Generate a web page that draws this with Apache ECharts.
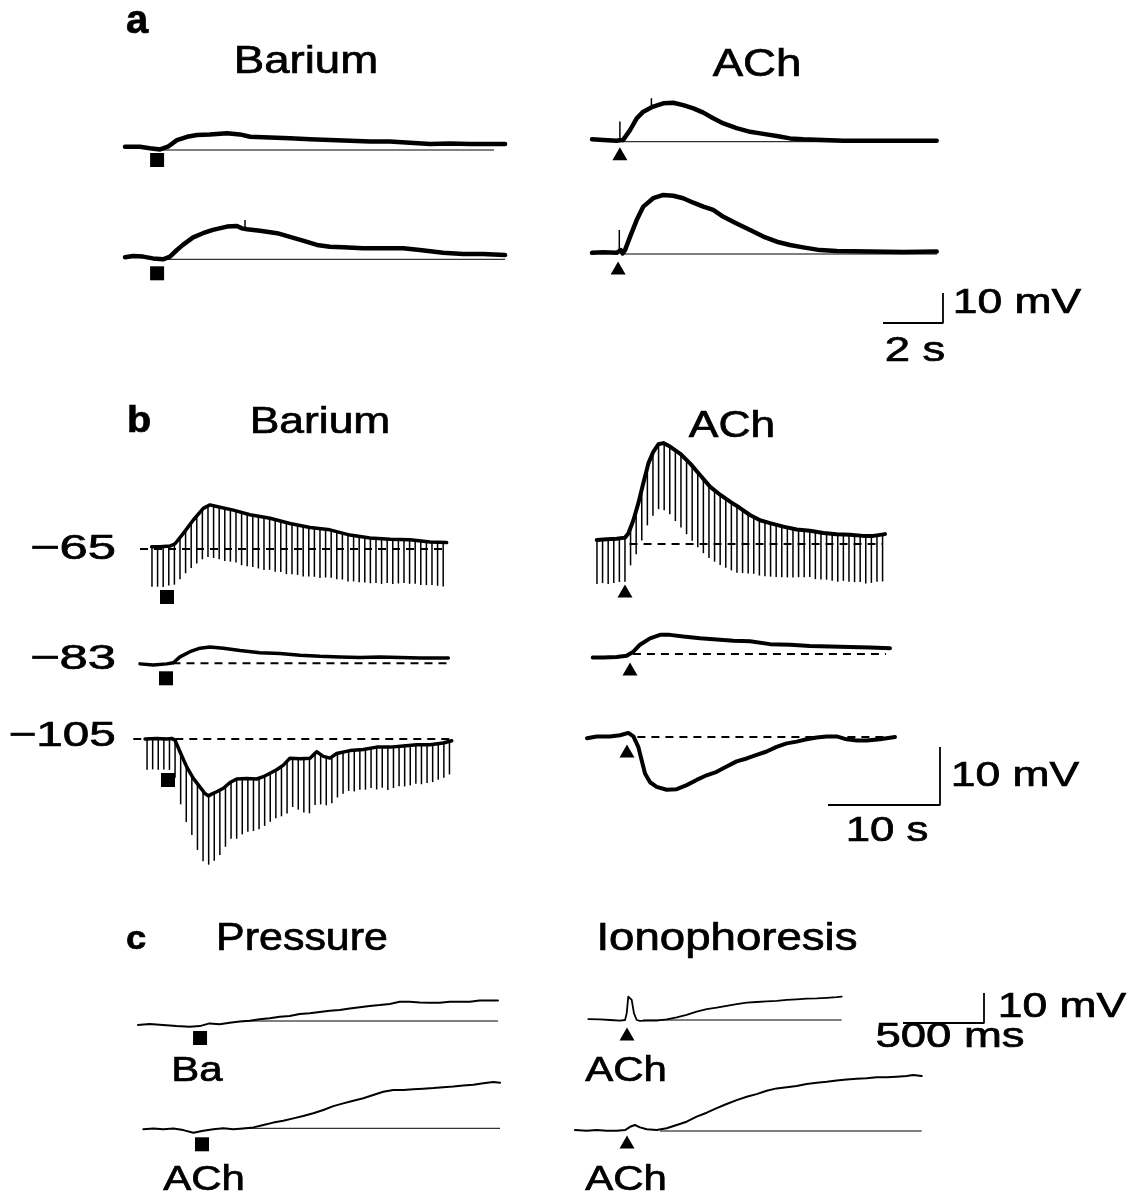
<!DOCTYPE html>
<html>
<head>
<meta charset="utf-8">
<script src="https://cdn.jsdelivr.net/npm/echarts@6/dist/echarts.min.js"></script>
<style>
  html, body { margin: 0; padding: 0; background: #fff; }
  #chart { width: 1139px; height: 1201px; }
</style>
</head>
<body>
<div id="chart"></div>
<script>
// ---- recordings: time (s, panel c in ms) and potential (mV relative to the trace's baseline)
// panel a
var aBaTopT = [0, 0.5, 0.83, 1.17, 1.43, 1.73, 2.07, 2.4, 2.83, 3.4, 3.83, 4.17, 4.83, 5.5, 6.17, 6.83, 7.5, 8.17, 8.83, 9.5, 10.17, 10.83, 11.5, 12.67];
var aBaTopV = [1.1, 1.1, 0.6, 0.2, 1.1, 3.3, 4.4, 5.0, 5.2, 5.6, 5.2, 4.4, 4.2, 3.9, 3.6, 3.3, 3.1, 2.8, 2.8, 2.4, 2.0, 2.2, 2.0, 2.0];
var aBaBotT = [0, 0.27, 0.6, 0.93, 1.27, 1.5, 1.73, 1.93, 2.27, 2.6, 2.93, 3.4, 3.73, 3.9, 4.07, 4.5, 5.07, 5.5, 5.93, 6.4, 6.83, 7.27, 7.93, 8.6, 9.27, 9.83, 10.6, 11.27, 11.93, 12.67];
var aBaBotV = [0.7, 1.1, 0.9, 0.3, 0.0, 0.9, 3.1, 4.8, 7.3, 8.7, 9.8, 10.9, 11.1, 10.3, 10.0, 9.5, 8.7, 7.5, 6.2, 4.8, 4.2, 4.0, 3.7, 3.7, 3.7, 3.1, 2.2, 1.8, 1.8, 1.4];
var aAChTopT = [0, 0.38, 0.82, 0.93, 1.04, 1.27, 1.49, 1.71, 2.04, 2.38, 2.71, 3.04, 3.38, 3.71, 4.04, 4.38, 4.82, 5.27, 5.71, 6.16, 6.6, 7.04, 7.71, 8.38, 9.27, 10.38, 11.49];
var aAChTopV = [0.8, 0.6, 0.3, 0.5, 0.6, 3.9, 7.8, 10.0, 11.7, 12.8, 13.0, 12.2, 11.1, 9.7, 7.8, 6.1, 4.5, 3.3, 2.6, 1.9, 1.1, 0.8, 0.6, 0.3, 0.3, 0.3, 0.3];
var aAChBotT = [0, 0.38, 0.82, 0.96, 1.02, 1.1, 1.27, 1.49, 1.71, 2.04, 2.38, 2.71, 3.04, 3.38, 3.71, 4.04, 4.38, 4.82, 5.27, 5.71, 6.16, 6.6, 7.04, 7.6, 8.16, 9.27, 10.38, 11.49];
var aAChBotV = [0.4, 0.6, 0.4, 1.3, 0.2, 1.3, 5.8, 11.3, 15.8, 18.6, 19.7, 19.4, 18.6, 17.1, 15.8, 14.7, 12.4, 10.2, 8.0, 5.8, 4.1, 3.0, 2.2, 1.3, 1.0, 0.8, 0.7, 0.8];
// fast artefacts (time, peak mV)
var aBaBotSpikeT = [4.0], aBaBotSpikeV = [13.1];
var aAChTopSpikeT = [0.93, 1.98], aAChTopSpikeV = [6.7, 14.5];
var aAChBotSpikeT = [0.91], aAChBotSpikeV = [8.0];

// panel b, holding potentials -65 / -83 / -105 mV
var bBa65T = [1.04, 1.79, 2.68, 3.13, 3.87, 4.76, 5.65, 6.25, 7.14, 8.33, 9.82, 11.61, 13.39, 15.18, 16.96, 18.75, 20.54, 22.32, 24.11, 25.89, 27.38];
var bBa65V = [0.4, 0.4, 0.5, 0.9, 2.7, 5.0, 7.0, 7.6, 7.2, 6.7, 5.9, 5.3, 4.4, 3.7, 3.3, 2.4, 1.9, 1.7, 1.6, 1.2, 1.1];
var bBa83T = [0, 1.19, 2.38, 2.98, 3.57, 4.46, 5.36, 6.25, 7.44, 8.93, 10.71, 12.5, 14.29, 16.07, 17.86, 19.64, 21.43, 23.21, 25.0, 26.19, 27.53];
var bBa83V = [-0.1, -0.3, -0.1, 0.1, 1.1, 2.0, 2.6, 2.8, 2.6, 2.2, 1.8, 1.7, 1.4, 1.2, 1.1, 1.0, 1.1, 1.0, 0.9, 0.9, 0.9];
var bBa105T = [0.45, 1.49, 2.38, 2.83, 3.13, 3.57, 4.17, 4.76, 5.36, 5.8, 6.1, 6.4, 6.85, 7.44, 8.04, 8.63, 9.52, 10.42, 11.01, 11.61, 12.2, 12.8, 13.39, 14.29, 15.18, 15.77, 16.37, 16.96, 17.56, 18.75, 19.94, 21.13, 22.32, 23.51, 24.7, 25.89, 27.08, 27.83];
var bBa105V = [0, 0.1, 0, 0.1, -0.2, -2.2, -4.8, -6.8, -8.3, -9.4, -9.8, -9.5, -9.1, -8.5, -7.5, -6.9, -6.8, -6.9, -6.5, -5.9, -5.3, -4.5, -3.3, -3.4, -3.3, -2.2, -3.0, -3.3, -2.5, -2.0, -1.8, -1.4, -1.4, -1.2, -1.0, -1.0, -0.7, -0.3];
var bACh65T = [0.87, 1.76, 2.65, 3.39, 3.69, 4.14, 4.58, 5.03, 5.48, 5.92, 6.37, 6.82, 7.41, 8.3, 9.2, 10.09, 10.98, 11.88, 12.77, 13.66, 14.55, 15.45, 16.34, 17.53, 18.72, 19.91, 21.1, 22.29, 23.48, 24.67, 25.57, 26.61];
var bACh65V = [0.7, 0.8, 0.9, 1.1, 1.8, 4.1, 7.0, 10.5, 13.9, 15.9, 17.2, 17.4, 16.8, 15.6, 13.9, 11.9, 9.9, 8.5, 7.3, 6.2, 5.0, 4.1, 3.6, 3.0, 2.5, 2.3, 1.9, 1.7, 1.6, 1.4, 1.4, 1.7];
var bACh83T = [0.51, 1.46, 2.65, 3.54, 4.14, 4.73, 5.63, 6.52, 7.41, 8.6, 10.09, 11.58, 13.07, 14.55, 16.34, 18.13, 19.91, 21.7, 23.48, 25.27, 27.05];
var bACh83V = [-0.6, -0.6, -0.5, -0.3, 0.4, 1.6, 2.7, 3.3, 3.3, 3.0, 2.7, 2.5, 2.3, 2.2, 1.7, 1.6, 1.4, 1.3, 1.2, 1.1, 1.0];
var bACh105T = [0, 0.87, 2.05, 2.95, 3.69, 4.14, 4.58, 4.88, 5.18, 5.63, 6.22, 7.11, 8.01, 8.9, 9.79, 10.68, 11.58, 12.47, 13.36, 14.26, 15.15, 16.04, 16.93, 17.83, 18.72, 19.61, 20.51, 21.4, 22.29, 23.18, 24.08, 24.97, 26.16, 27.5];
var bACh105V = [-0.2, 0.1, 0.1, 0.3, 0.7, 0.1, -1.7, -4.0, -6.3, -7.8, -8.6, -9.1, -9.0, -8.3, -7.4, -6.6, -6.0, -5.1, -4.2, -3.7, -3.1, -2.5, -1.7, -1.1, -0.8, -0.4, -0.1, 0.1, 0.1, -0.4, -0.6, -0.6, -0.4, 0];
// hyperpolarising current pulses, one every 0.5 s: first pulse time and each pulse's amplitude (mV)
var PULSE_PERIOD = 0.5;
var bBa65PulseT0 = 1.07;
var bBa65Pulse = [6.9, 6.9, 7.0, 6.8, 7.0, 7.2, 7.4, 7.8, 8.2, 8.6, 8.8, 9.0,
  9.0, 9.1, 9.0, 8.9, 9.1, 9.0, 8.9, 9.0, 9.1, 8.9, 9.0,
  8.8, 8.9, 8.7, 8.6, 8.7, 8.5, 8.4, 8.5, 8.3, 8.2,
  8.2, 8.0, 8.1, 7.9, 7.9, 7.8, 7.8,
  7.7, 7.8, 7.6, 7.7, 7.6, 7.5, 7.6, 7.5, 7.6, 7.5, 7.4, 7.5, 7.6];
var bBa105PulseT0 = 0.63;
var bBa105Pulse = [5.3, 5.3, 5.4, 5.3, 5.4, 6.5, 8.8, 9.7, 10.2, 11.4, 12.1, 11.9, 11.7, 11.2, 10.4,
  9.8, 10.3, 9.6, 9.2, 9.0, 8.8, 8.6, 8.4, 8.3, 8.6, 9.0, 8.4, 8.8, 9.3, 9.5,
  8.9, 8.6, 8.3, 8.0, 7.6, 7.2, 6.9, 7.1, 6.9, 7.0, 6.9, 7.3, 7.0, 7.4, 7.1,
  6.9, 7.0, 6.9, 6.7, 6.8, 6.6, 6.5, 6.2, 6.0, 5.7];
var bACh65PulseT0 = 0.89;
var bACh65Pulse = [7.6, 7.5, 7.7, 7.6, 7.5, 7.6, 6.5, 7.5, 8.8, 10.0, 10.9, 11.2, 11.5, 11.7, 12.2,
  12.6, 12.8, 12.9, 12.9, 12.8, 12.5, 12.3, 12.1, 11.9, 11.7, 11.5, 10.9, 10.3, 9.8, 9.6,
  9.4, 9.2, 9.0, 8.8, 8.6, 8.4, 8.2, 8.1, 8.0, 8.2, 8.1, 8.0, 8.1, 8.2, 8.0,
  8.1, 8.1, 8.0, 8.2, 8.1, 8.0, 8.1];

// panel c (ms)
var cBaT = [0, 72, 154, 237, 319, 381, 442, 504, 566, 628, 689, 751, 813, 875, 936, 998, 1060, 1122, 1183, 1245, 1307, 1369, 1430, 1492, 1554, 1615, 1677, 1739, 1801, 1862, 1924, 1986, 2048, 2109, 2171, 2222];
var cBaV = [-1.3, -1.0, -1.3, -1.7, -1.9, -1.7, -0.8, -1.1, -0.6, -0.2, 0.1, 0.6, 0.9, 1.4, 1.7, 2.3, 2.6, 3.0, 3.4, 3.7, 4.2, 4.6, 5.0, 5.3, 5.7, 6.4, 6.4, 6.2, 6.1, 6.1, 6.4, 6.4, 6.4, 6.8, 6.8, 6.8];
var cAChT = [33, 95, 156, 218, 280, 342, 403, 465, 527, 588, 650, 712, 774, 835, 897, 959, 1020, 1082, 1144, 1206, 1267, 1329, 1391, 1452, 1514, 1576, 1638, 1699, 1761, 1823, 1885, 1946, 2008, 2070, 2132, 2193, 2235];
var cAChV = [-0.3, -0.1, -0.3, -0.1, -0.6, -1.5, -0.8, -0.3, 0, -0.3, -0.1, 0.3, 1.1, 1.9, 2.5, 3.3, 4.1, 5.0, 6.1, 7.4, 8.3, 9.2, 10.0, 11.1, 12.2, 12.8, 12.8, 13.0, 13.2, 13.4, 13.7, 13.9, 14.3, 14.5, 15.0, 15.4, 15.2];
var cIonTopT = [82, 154, 216, 278, 309, 319, 329, 340, 350, 364, 381, 401, 443, 504, 566, 628, 689, 751, 813, 875, 936, 998, 1060, 1121, 1183, 1245, 1307, 1368, 1430, 1492, 1554, 1615, 1646];
var cIonTopV = [0.3, 0.2, 0, -0.2, 0, 2.2, 7.8, 8.3, 6.7, 2.2, 0, -0.3, -0.2, -0.2, 0.2, 0.9, 1.7, 2.8, 3.6, 4.1, 4.7, 5.3, 5.8, 6.0, 6.2, 6.4, 6.7, 6.9, 7.1, 7.2, 7.4, 7.6, 7.8];
var cIonBotT = [0, 72, 134, 196, 257, 309, 340, 370, 401, 443, 504, 566, 628, 689, 751, 813, 875, 936, 998, 1060, 1121, 1183, 1245, 1307, 1368, 1430, 1492, 1554, 1615, 1677, 1739, 1800, 1862, 1924, 1986, 2047, 2088, 2140];
var cIonBotV = [0.3, 0.1, 0.3, 0.1, 0.1, 0.3, 1.4, 2.0, 1.2, 0.6, 0.3, 0.9, 2.0, 3.1, 4.8, 6.1, 7.6, 9.0, 10.3, 11.4, 12.3, 13.4, 14.2, 14.6, 15.0, 15.7, 16.1, 16.4, 16.8, 17.2, 17.4, 17.6, 17.9, 17.9, 18.1, 18.3, 18.7, 18.3];

// application times (per trace, in panel order) and extent of each baseline
var aStim = [1.07, 1.07, 0.93, 0.87];
var bStim = [2.41, 2.32, 2.5, 3.39, 3.84, 3.57];
var cStim = [383, 395, 321, 321];
var aBase = [[1.2, 12.3], [1.4, 12.67], [1.0, 11.5], [1.0, 11.5]];
var bBase = [[0, 27.5], [2.9, 27.5], [-0.6, 28.0], [3.8, 26.4], [4.1, 26.7], [4.5, 27.5]];
var cBase = [[650, 2222], [630, 2235], [420, 1646], [525, 2140]];

// calibration bars
var aScaleT = [0, 2, 2], aScaleV = [0, 0, 10];       // 2 s, 10 mV
var bScaleT = [0, 10, 10], bScaleV = [0, 0, 10];     // 10 s, 10 mV
var cScaleT = [0, 500, 500], cScaleV = [0, 0, 10];   // 500 ms, 10 mV

// ---- layout
var INK = '#000';
var FONT = '"Liberation Sans", Arial, sans-serif';
var panels = {
  a: {pxT: 30, pxV: 3, tMin: 0, tMax: 13, vMin: -8, vMax: 22},
  b: {pxT: 11.2, pxV: 5.8, tMin: -1, tMax: 28.5, vMin: -25, vMax: 22},
  c: {pxT: 0.162, pxV: 3, tMin: 0, tMax: 2300, vMin: -8, vMax: 22}
};

var traces = [
  {p: 'a', T: aBaTopT, V: aBaTopV, x0: 125, base: 150, lw: 4.5, stim: aStim[0], mark: 'rect', off: 10, span: aBase[0]},
  {p: 'a', T: aBaBotT, V: aBaBotV, x0: 125, base: 259.3, lw: 4.5, stim: aStim[1], mark: 'rect', off: 14, span: aBase[1], spikes: [aBaBotSpikeT, aBaBotSpikeV]},
  {p: 'a', T: aAChTopT, V: aAChTopV, x0: 592, base: 141.7, lw: 4.5, stim: aStim[2], mark: 'triangle', off: 12, span: aBase[2], spikes: [aAChTopSpikeT, aAChTopSpikeV]},
  {p: 'a', T: aAChBotT, V: aAChBotV, x0: 592, base: 254, lw: 4.5, stim: aStim[3], mark: 'triangle', off: 14, span: aBase[3], spikes: [aAChBotSpikeT, aAChBotSpikeV]},
  {p: 'b', T: bBa65T, V: bBa65V, x0: 140, base: 549, lw: 3.5, stim: bStim[0], mark: 'rect', off: 48, span: bBase[0], dash: true, pulseT0: bBa65PulseT0, pulses: bBa65Pulse},
  {p: 'b', T: bBa83T, V: bBa83V, x0: 140, base: 663.3, lw: 3.5, stim: bStim[1], mark: 'rect', off: 15, span: bBase[1], dash: true},
  {p: 'b', T: bBa105T, V: bBa105V, x0: 140, base: 739, lw: 3.5, stim: bStim[2], mark: 'rect', off: 41, span: bBase[2], dash: true, pulseT0: bBa105PulseT0, pulses: bBa105Pulse},
  {p: 'b', T: bACh65T, V: bACh65V, x0: 587, base: 544, lw: 4, stim: bStim[3], mark: 'triangle', off: 47, span: bBase[3], dash: true, pulseT0: bACh65PulseT0, pulses: bACh65Pulse},
  {p: 'b', T: bACh83T, V: bACh83V, x0: 587, base: 654, lw: 4, stim: bStim[4], mark: 'triangle', off: 15, span: bBase[4], dash: true},
  {p: 'b', T: bACh105T, V: bACh105V, x0: 587, base: 737, lw: 4, stim: bStim[5], mark: 'triangle', off: 14, span: bBase[5], dash: true},
  {p: 'c', T: cBaT, V: cBaV, x0: 138, base: 1021, lw: 2, stim: cStim[0], mark: 'rect', off: 17, span: cBase[0]},
  {p: 'c', T: cAChT, V: cAChV, x0: 138, base: 1128.3, lw: 2, stim: cStim[1], mark: 'rect', off: 16, span: cBase[1]},
  {p: 'c', T: cIonTopT, V: cIonTopV, x0: 575, base: 1020, lw: 1.8, stim: cStim[2], mark: 'triangle', off: 14, span: cBase[2]},
  {p: 'c', T: cIonBotT, V: cIonBotV, x0: 575, base: 1131, lw: 2, stim: cStim[3], mark: 'triangle', off: 11, span: cBase[3]}
];
var scaleBars = [
  {p: 'a', T: aScaleT, V: aScaleV, x0: 883, base: 323},
  {p: 'b', T: bScaleT, V: bScaleV, x0: 828, base: 805},
  {p: 'c', T: cScaleT, V: cScaleV, x0: 903, base: 1023}
];

// text: [label, centre x, middle y, size, weight, horizontal stretch]
var texts = [
  ['a', 137, 22, 40, 'bold', 1.0],
  ['Barium', 306, 63, 38, 'normal', 1.2],
  ['ACh', 757, 66, 38, 'normal', 1.2],
  ['10 mV', 1017, 303, 35, 'normal', 1.27],
  ['2 s', 915, 351, 35, 'normal', 1.3],
  ['b', 139, 422, 36, 'bold', 1.1],
  ['Barium', 320, 423, 37, 'normal', 1.2],
  ['ACh', 732, 427, 37, 'normal', 1.2],
  ['\u221265', 73, 549, 35, 'normal', 1.45],
  ['\u221283', 73, 659, 35, 'normal', 1.45],
  ['\u2212105', 62, 736, 35, 'normal', 1.36],
  ['10 mV', 1015, 776, 35, 'normal', 1.27],
  ['10 s', 887, 831, 35, 'normal', 1.25],
  ['c', 136, 940, 33, 'bold', 1.1],
  ['Pressure', 302, 940, 38, 'normal', 1.13],
  ['Ionophoresis', 727, 940, 38, 'normal', 1.2],
  ['10 mV', 1062, 1007, 35, 'normal', 1.27],
  ['500 ms', 950, 1037, 35, 'normal', 1.3],
  ['Ba', 197, 1071, 35, 'normal', 1.2],
  ['ACh', 204, 1180, 35, 'normal', 1.2],
  ['ACh', 626, 1071, 35, 'normal', 1.2],
  ['ACh', 626, 1180, 35, 'normal', 1.2]
];

// ---- helpers
function zip(T, V) { return T.map(function (t, i) { return [t, V[i]]; }); }
// level of a trace at time t, used for the foot of a pulse or artefact
function levelAt(T, V, t) {
  if (t <= T[0]) return V[0];
  for (var i = 1; i < T.length; i++) {
    if (t <= T[i]) { var f = (t - T[i - 1]) / (T[i] - T[i - 1]); return V[i - 1] + f * (V[i] - V[i - 1]); }
  }
  return V[V.length - 1];
}
function tickItem(params, api) {
  var p1 = api.coord([api.value(0), api.value(1)]);
  var p2 = api.coord([api.value(0), api.value(2)]);
  return {type: 'line', shape: {x1: p1[0], y1: p1[1], x2: p2[0], y2: p2[1]}, style: {stroke: INK, lineWidth: 1.5}};
}

var grids = [], xAxes = [], yAxes = [], series = [];
function addGrid(p, x0, base) {
  var P = panels[p], i = grids.length;
  grids.push({left: x0 + P.tMin * P.pxT, top: base - P.vMax * P.pxV, width: (P.tMax - P.tMin) * P.pxT,
    height: (P.vMax - P.vMin) * P.pxV, show: false, containLabel: false, outerBoundsMode: 'none'});
  xAxes.push({type: 'value', gridIndex: i, min: P.tMin, max: P.tMax, show: false});
  yAxes.push({type: 'value', gridIndex: i, min: P.vMin, max: P.vMax, show: false});
  return i;
}

traces.forEach(function (tr) {
  var g = addGrid(tr.p, tr.x0, tr.base);
  // baseline (resting level)
  series.push({type: 'line', xAxisIndex: g, yAxisIndex: g, data: [[tr.span[0], 0], [tr.span[1], 0]],
    symbol: 'none', silent: true, clip: false, z: 1,
    lineStyle: {color: INK, width: tr.dash ? 2 : 1, type: tr.dash ? [8, 6] : 'solid'}});
  // current pulses and artefacts as thin vertical strokes
  var ticks = [];
  if (tr.pulses) tr.pulses.forEach(function (d, k) {
    var t = tr.pulseT0 + k * PULSE_PERIOD, lv = levelAt(tr.T, tr.V, t);
    ticks.push([t, lv, lv - d]);
  });
  if (tr.spikes) tr.spikes[0].forEach(function (t, k) {
    ticks.push([t, levelAt(tr.T, tr.V, t), tr.spikes[1][k]]);
  });
  if (ticks.length) series.push({type: 'custom', xAxisIndex: g, yAxisIndex: g, data: ticks, renderItem: tickItem,
    encode: {x: 0, y: [1, 2]}, clip: false, silent: true, z: 2});
  // the recording
  series.push({type: 'line', xAxisIndex: g, yAxisIndex: g, data: zip(tr.T, tr.V), symbol: 'none', silent: true,
    clip: false, z: 3, lineStyle: {color: INK, width: tr.lw, join: 'round', cap: 'round'}});
  // application marker
  series.push({type: 'scatter', xAxisIndex: g, yAxisIndex: g, data: [[tr.stim, 0]], symbol: tr.mark,
    symbolSize: tr.mark === 'rect' ? 14 : [15, 13], symbolOffset: [0, tr.off], itemStyle: {color: INK, opacity: 1},
    silent: true, clip: false, z: 4});
});
scaleBars.forEach(function (sb) {
  var g = addGrid(sb.p, sb.x0, sb.base);
  series.push({type: 'line', xAxisIndex: g, yAxisIndex: g, data: zip(sb.T, sb.V), symbol: 'none', silent: true,
    clip: false, lineStyle: {color: INK, width: 1.8}});
});

var chart = echarts.init(document.getElementById('chart'));
chart.setOption({
  backgroundColor: '#fff',
  animation: false,
  grid: grids,
  xAxis: xAxes,
  yAxis: yAxes,
  series: series,
  graphic: texts.map(function (s) {
    return {type: 'text', x: s[1], y: s[2], scaleX: s[5], silent: true,
      style: {text: s[0], font: s[4] + ' ' + s[3] + 'px ' + FONT, fill: INK, stroke: INK, lineWidth: 0.7,
        textAlign: 'center', textVerticalAlign: 'middle', align: 'center', verticalAlign: 'middle'}};
  })
});
</script>
</body>
</html>
